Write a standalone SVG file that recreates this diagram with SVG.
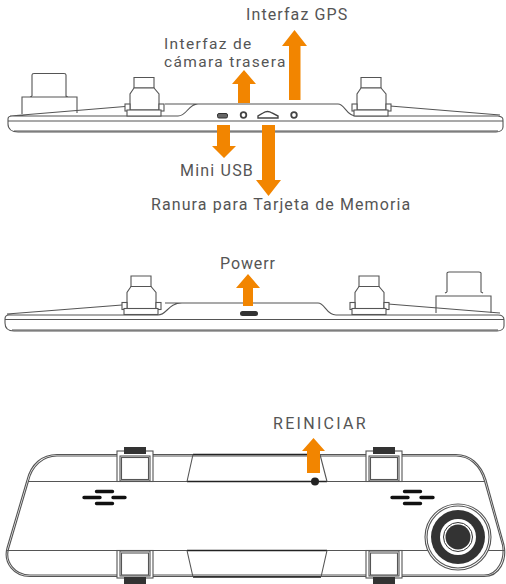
<svg xmlns="http://www.w3.org/2000/svg" width="506" height="584" viewBox="0 0 506 584">
<style>
.l{fill:none;stroke:#555;stroke-width:1.1}
.w{fill:#fff;stroke:#555;stroke-width:1.1}
.d{fill:#333;stroke:none}
.a{fill:#f28500;stroke:none}
.t{font-family:"Roboto","Liberation Sans",sans-serif;font-size:16px;fill:#555;letter-spacing:1.1px}
.n{font-size:15.500px;letter-spacing:1.35px}
.s{fill:none;stroke:#111;stroke-width:3.4;stroke-linecap:round}
</style>
<defs>
<g id="mount">
<path class="w" d="M134 77.500H154V88H134Z"/>
<path class="w" d="M134 88L130 94V110H159V94L154 88Z"/>
<rect class="w" x="125" y="104" width="5" height="7"/>
<rect class="w" x="159" y="104" width="5" height="7"/>
<rect class="w" x="127" y="110" width="34" height="6"/>
</g>
<g id="clip">
<rect class="w" x="117" y="451" width="36" height="30.500"/>
<rect class="l" x="120" y="456" width="30" height="25"/>
<rect class="l" x="121.500" y="457.500" width="27" height="22"/>
<rect class="d" x="124" y="447" width="22" height="7"/>
</g>
<g id="clipb">
<rect class="w" x="117" y="550.500" width="36" height="27.500"/>
<rect class="l" x="120" y="551" width="30" height="25"/>
<rect class="l" x="121.500" y="553" width="27" height="22"/>
<rect class="d" x="124" y="577" width="22" height="7"/>
</g>
<g id="speaker">
<path class="s" d="M96.500 491.500H112.500M84 497.500H100M113 497.500H125M96.500 503.500H112.500"/>
</g>
</defs>

<g id="mirror-rear">
<path class="l" d="M32 96V75Q32 73.500 34 73.500H64Q66 73.500 66 75V96L68 97M32 96L30 97M22 114V97H77V113"/>
<path class="l" d="M10 116L125 106.500M165 104H338C345 104 346 116 356 116H498C503 117 503 118 503 121V127C503 130 500 132 496 132H18C12 132 8 129 8 124V119C8 117 9 116 12 116H178C187 116 188 104 198 104"/>
<path class="l" d="M390 106L500 115M8 121H503M14 131H498"/>
<use href="#mount"/>
<use href="#mount" x="227"/>
<rect x="217.500" y="113.500" width="10" height="4.500" rx="1.500" fill="#666" stroke="#333" stroke-width="1"/>
<circle cx="243.500" cy="115" r="2.800" fill="#fff" stroke="#444" stroke-width="1.800"/>
<circle cx="294" cy="115" r="2.800" fill="#fff" stroke="#444" stroke-width="1.800"/>
<path fill="#fff" stroke="#444" stroke-width="1.400" d="M258 118V116L263 113C266 111 269 111 272 113L278 116V118Z"/>
</g>

<g id="mirror-bottom">
<path class="l" d="M447 292V273Q447 272 449 272H479Q481 272 481 273V292L483 293M447 292L445 293M436 313V296H491V313"/>
<path class="l" d="M7 314L122 305M165 303H318C325 303 326 315 336 315H498C503 315 504 317 504 320V326C504 329 501 331 497 331H14C8 331 5 328 5 323V319C5 316 6 315 9 315H158C167 315 168 303 182 303"/>
<path class="l" d="M388 304L500 313M5 319.500H504M12 330H498"/>
<use href="#mount" x="-3" y="198.500"/>
<use href="#mount" x="225" y="198.500"/>
<rect class="d" x="240" y="311" width="18" height="5" rx="2.500"/>
</g>

<g id="mirror-front">
<path class="l" d="M57 454.500H456C470 454.500 481 464 486 480L504 545C507 560 500 576.500 484 576.500H30C14 576.500 3 563 7 548L27 480C31 464 42 454.500 57 454.500Z"/>
<path class="l" d="M57 456H456C469 456 480 465 484.500 481L502.500 545C505 559 498 575 484 575H30C15 575 5 562 8.500 549L28.500 481C32 466 43 456 57 456Z"/>
<path class="l" d="M28 481.500H485M7 550.500H505"/>
<path fill="none" stroke="#222" stroke-width="1.500" d="M193 454.500H320M187 481.500H327M187 550.500H327M193 577H321"/>
<path class="l" d="M193 454.500L187 481.500M320 454.500L327 481.500M187 550.500L193 577M327 550.500L321 577"/>
<use href="#clip"/>
<use href="#clip" x="249"/>
<use href="#clipb"/>
<use href="#clipb" x="249"/>
<use href="#speaker"/>
<use href="#speaker" x="308"/>
<circle cx="315" cy="481.500" r="4" fill="#222"/>
<g id="lens">
<circle cx="458" cy="537" r="33" class="w"/>
<circle cx="458" cy="537" r="31" class="l"/>
<circle cx="458" cy="537" r="27" class="d"/>
<circle cx="458" cy="537" r="18" fill="#fff"/>
<circle cx="458" cy="537" r="14.500" fill="#fff" stroke="#333" stroke-width="1"/>
<circle cx="458" cy="537" r="12.500" class="d"/>
</g>
</g>

<g id="connectors">
<path class="a" d="M289 100V46H282L294.500 30L307 46H300.500V100Z"/>
<path class="a" d="M238 103V84H232L244 70L256 84H250V103Z"/>
<path class="a" d="M217 125H230V146H236L224 158L212 146H217Z"/>
<path class="a" d="M262 125H275V180H281L268.500 196L256 180H262Z"/>
<path class="a" d="M243 306V288H236L248 274L260 288H253V306Z"/>
<path class="a" d="M307 473V451H302L313.500 438L325 451H320V473Z"/>
</g>

<g id="labels">
<text class="t" x="246" y="20">Interfaz GPS</text>
<text class="t n" x="164" y="48.500">Interfaz de</text>
<text class="t n" x="164" y="67">cámara trasera</text>
<text class="t" x="180" y="176" style="letter-spacing:1.2px">Mini USB</text>
<text class="t" x="151" y="210">Ranura para Tarjeta de Memoria</text>
<text class="t" x="220" y="269" style="letter-spacing:.9px">Powerr</text>
<text class="t" x="273" y="429" style="letter-spacing:2.3px">REINICIAR</text>
</g>
</svg>
